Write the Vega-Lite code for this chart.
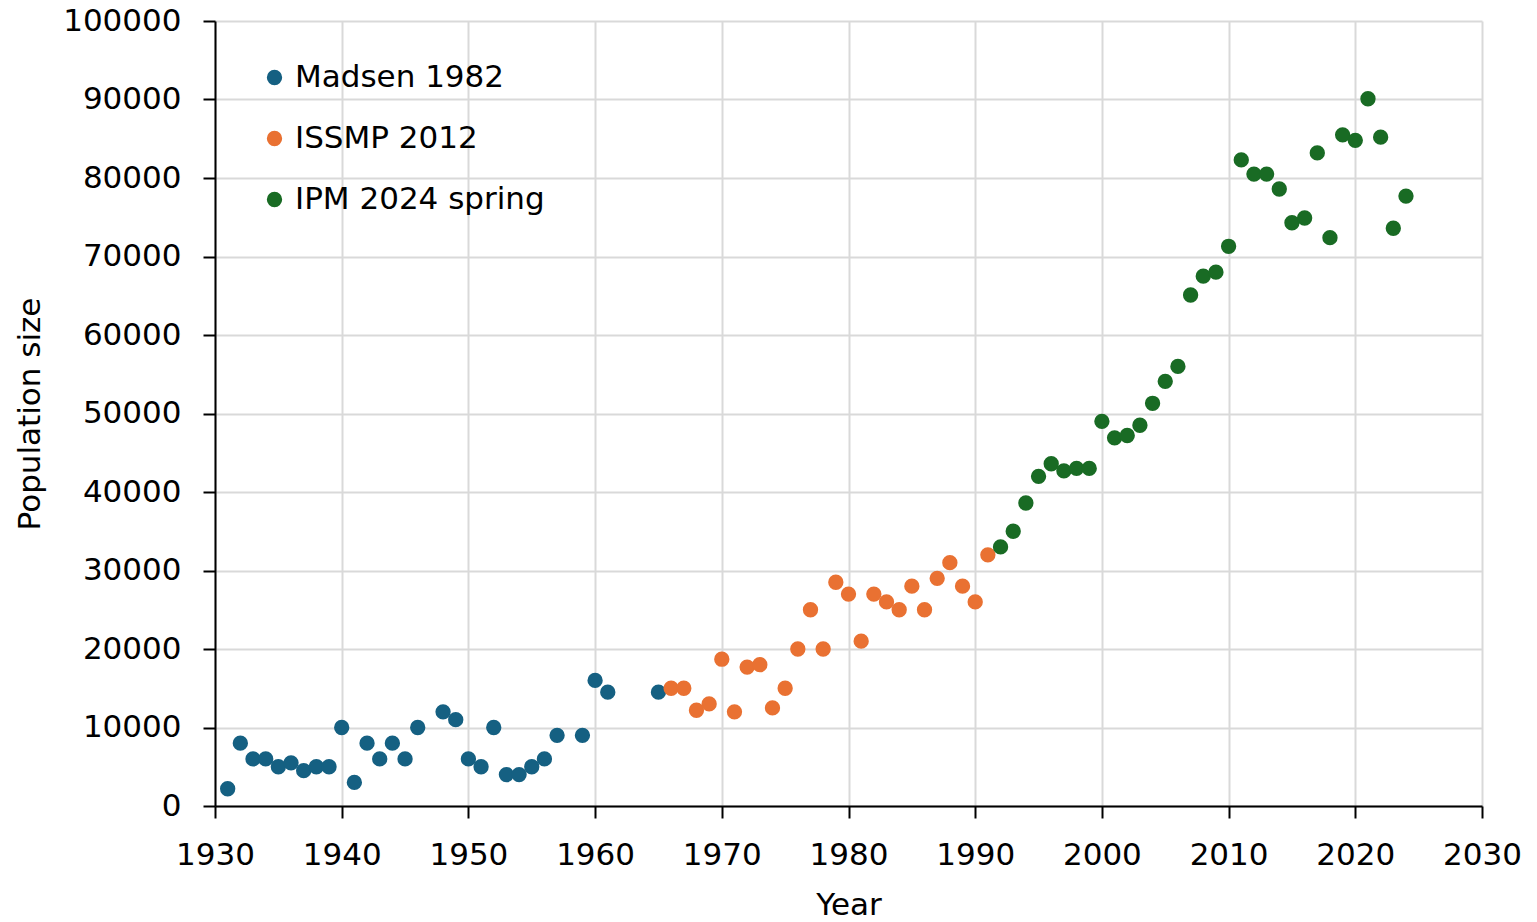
{
  "$schema": "https://vega.github.io/schema/vega-lite/v6.json",
  "width": 1267,
  "height": 785,
  "autosize": {"type": "none"},
  "padding": {"left": 215, "top": 21, "right": 55, "bottom": 116},
  "background": "white",
  "config": {
    "font": "DejaVu Sans",
    "view": {"stroke": null}
  },
  "data": {
    "values": [
      {"Year": 1931, "Population": 2200, "Source": "Madsen 1982"},
      {"Year": 1932, "Population": 8000, "Source": "Madsen 1982"},
      {"Year": 1933, "Population": 6000, "Source": "Madsen 1982"},
      {"Year": 1934, "Population": 6000, "Source": "Madsen 1982"},
      {"Year": 1935, "Population": 5000, "Source": "Madsen 1982"},
      {"Year": 1936, "Population": 5500, "Source": "Madsen 1982"},
      {"Year": 1937, "Population": 4500, "Source": "Madsen 1982"},
      {"Year": 1938, "Population": 5000, "Source": "Madsen 1982"},
      {"Year": 1939, "Population": 5000, "Source": "Madsen 1982"},
      {"Year": 1940, "Population": 10000, "Source": "Madsen 1982"},
      {"Year": 1941, "Population": 3000, "Source": "Madsen 1982"},
      {"Year": 1942, "Population": 8000, "Source": "Madsen 1982"},
      {"Year": 1943, "Population": 6000, "Source": "Madsen 1982"},
      {"Year": 1944, "Population": 8000, "Source": "Madsen 1982"},
      {"Year": 1945, "Population": 6000, "Source": "Madsen 1982"},
      {"Year": 1946, "Population": 10000, "Source": "Madsen 1982"},
      {"Year": 1948, "Population": 12000, "Source": "Madsen 1982"},
      {"Year": 1949, "Population": 11000, "Source": "Madsen 1982"},
      {"Year": 1950, "Population": 6000, "Source": "Madsen 1982"},
      {"Year": 1951, "Population": 5000, "Source": "Madsen 1982"},
      {"Year": 1952, "Population": 10000, "Source": "Madsen 1982"},
      {"Year": 1953, "Population": 4000, "Source": "Madsen 1982"},
      {"Year": 1954, "Population": 4000, "Source": "Madsen 1982"},
      {"Year": 1955, "Population": 5000, "Source": "Madsen 1982"},
      {"Year": 1956, "Population": 6000, "Source": "Madsen 1982"},
      {"Year": 1957, "Population": 9000, "Source": "Madsen 1982"},
      {"Year": 1959, "Population": 9000, "Source": "Madsen 1982"},
      {"Year": 1960, "Population": 16000, "Source": "Madsen 1982"},
      {"Year": 1961, "Population": 14500, "Source": "Madsen 1982"},
      {"Year": 1965, "Population": 14500, "Source": "Madsen 1982"},
      {"Year": 1966, "Population": 15000, "Source": "ISSMP 2012"},
      {"Year": 1967, "Population": 15000, "Source": "ISSMP 2012"},
      {"Year": 1968, "Population": 12200, "Source": "ISSMP 2012"},
      {"Year": 1969, "Population": 13000, "Source": "ISSMP 2012"},
      {"Year": 1970, "Population": 18700, "Source": "ISSMP 2012"},
      {"Year": 1971, "Population": 12000, "Source": "ISSMP 2012"},
      {"Year": 1972, "Population": 17700, "Source": "ISSMP 2012"},
      {"Year": 1973, "Population": 18000, "Source": "ISSMP 2012"},
      {"Year": 1974, "Population": 12500, "Source": "ISSMP 2012"},
      {"Year": 1975, "Population": 15000, "Source": "ISSMP 2012"},
      {"Year": 1976, "Population": 20000, "Source": "ISSMP 2012"},
      {"Year": 1977, "Population": 25000, "Source": "ISSMP 2012"},
      {"Year": 1978, "Population": 20000, "Source": "ISSMP 2012"},
      {"Year": 1979, "Population": 28500, "Source": "ISSMP 2012"},
      {"Year": 1980, "Population": 27000, "Source": "ISSMP 2012"},
      {"Year": 1981, "Population": 21000, "Source": "ISSMP 2012"},
      {"Year": 1982, "Population": 27000, "Source": "ISSMP 2012"},
      {"Year": 1983, "Population": 26000, "Source": "ISSMP 2012"},
      {"Year": 1984, "Population": 25000, "Source": "ISSMP 2012"},
      {"Year": 1985, "Population": 28000, "Source": "ISSMP 2012"},
      {"Year": 1986, "Population": 25000, "Source": "ISSMP 2012"},
      {"Year": 1987, "Population": 29000, "Source": "ISSMP 2012"},
      {"Year": 1988, "Population": 31000, "Source": "ISSMP 2012"},
      {"Year": 1989, "Population": 28000, "Source": "ISSMP 2012"},
      {"Year": 1990, "Population": 26000, "Source": "ISSMP 2012"},
      {"Year": 1991, "Population": 32000, "Source": "ISSMP 2012"},
      {"Year": 1992, "Population": 33000, "Source": "IPM 2024 spring"},
      {"Year": 1993, "Population": 35000, "Source": "IPM 2024 spring"},
      {"Year": 1994, "Population": 38600, "Source": "IPM 2024 spring"},
      {"Year": 1995, "Population": 42000, "Source": "IPM 2024 spring"},
      {"Year": 1996, "Population": 43600, "Source": "IPM 2024 spring"},
      {"Year": 1997, "Population": 42700, "Source": "IPM 2024 spring"},
      {"Year": 1998, "Population": 43000, "Source": "IPM 2024 spring"},
      {"Year": 1999, "Population": 43000, "Source": "IPM 2024 spring"},
      {"Year": 2000, "Population": 49000, "Source": "IPM 2024 spring"},
      {"Year": 2001, "Population": 46900, "Source": "IPM 2024 spring"},
      {"Year": 2002, "Population": 47200, "Source": "IPM 2024 spring"},
      {"Year": 2003, "Population": 48500, "Source": "IPM 2024 spring"},
      {"Year": 2004, "Population": 51300, "Source": "IPM 2024 spring"},
      {"Year": 2005, "Population": 54100, "Source": "IPM 2024 spring"},
      {"Year": 2006, "Population": 56000, "Source": "IPM 2024 spring"},
      {"Year": 2007, "Population": 65100, "Source": "IPM 2024 spring"},
      {"Year": 2008, "Population": 67500, "Source": "IPM 2024 spring"},
      {"Year": 2009, "Population": 68000, "Source": "IPM 2024 spring"},
      {"Year": 2010, "Population": 71300, "Source": "IPM 2024 spring"},
      {"Year": 2011, "Population": 82300, "Source": "IPM 2024 spring"},
      {"Year": 2012, "Population": 80500, "Source": "IPM 2024 spring"},
      {"Year": 2013, "Population": 80500, "Source": "IPM 2024 spring"},
      {"Year": 2014, "Population": 78600, "Source": "IPM 2024 spring"},
      {"Year": 2015, "Population": 74300, "Source": "IPM 2024 spring"},
      {"Year": 2016, "Population": 74900, "Source": "IPM 2024 spring"},
      {"Year": 2017, "Population": 83200, "Source": "IPM 2024 spring"},
      {"Year": 2018, "Population": 72400, "Source": "IPM 2024 spring"},
      {"Year": 2019, "Population": 85500, "Source": "IPM 2024 spring"},
      {"Year": 2020, "Population": 84800, "Source": "IPM 2024 spring"},
      {"Year": 2021, "Population": 90100, "Source": "IPM 2024 spring"},
      {"Year": 2022, "Population": 85200, "Source": "IPM 2024 spring"},
      {"Year": 2023, "Population": 73600, "Source": "IPM 2024 spring"},
      {"Year": 2024, "Population": 77700, "Source": "IPM 2024 spring"}
    ]
  },
  "mark": {"type": "circle", "size": 235, "opacity": 1},
  "encoding": {
    "x": {
      "field": "Year",
      "type": "quantitative",
      "scale": {"domain": [1930, 2030], "nice": false, "zero": false},
      "axis": {
        "values": [1930, 1940, 1950, 1960, 1970, 1980, 1990, 2000, 2010, 2020, 2030],
        "format": "d",
        "title": "Year",
        "titleFontSize": 31,
        "titleFontWeight": "normal",
        "titleColor": "black",
        "titlePadding": 20,
        "labelFontSize": 31,
        "labelColor": "black",
        "labelPadding": 22,
        "labelOverlap": false,
        "labelFlush": false,
        "domainColor": "black",
        "domainWidth": 2,
        "tickColor": "black",
        "tickWidth": 2,
        "tickSize": 12,
        "grid": true,
        "gridColor": "#d9d9d9",
        "gridWidth": 2
      }
    },
    "y": {
      "field": "Population",
      "type": "quantitative",
      "scale": {"domain": [0, 100000], "nice": false},
      "axis": {
        "values": [0, 10000, 20000, 30000, 40000, 50000, 60000, 70000, 80000, 90000, 100000],
        "format": "d",
        "title": "Population size",
        "titleFontSize": 31,
        "titleFontWeight": "normal",
        "titleColor": "black",
        "titlePadding": 16,
        "labelFontSize": 31,
        "labelColor": "black",
        "labelPadding": 22,
        "labelOverlap": false,
        "labelFlush": false,
        "domainColor": "black",
        "domainWidth": 2,
        "tickColor": "black",
        "tickWidth": 2,
        "tickSize": 12,
        "grid": true,
        "gridColor": "#d9d9d9",
        "gridWidth": 2
      }
    },
    "color": {
      "field": "Source",
      "type": "nominal",
      "scale": {
        "domain": ["Madsen 1982", "ISSMP 2012", "IPM 2024 spring"],
        "range": ["#156082", "#e97132", "#196b24"]
      },
      "legend": {
        "title": null,
        "orient": "none",
        "legendX": 44,
        "legendY": 41,
        "symbolType": "circle",
        "symbolSize": 235,
        "symbolOpacity": 1,
        "labelFontSize": 31,
        "labelColor": "black",
        "labelOffset": 5,
        "rowPadding": 29,
        "labelLimit": 400
      }
    }
  }
}
